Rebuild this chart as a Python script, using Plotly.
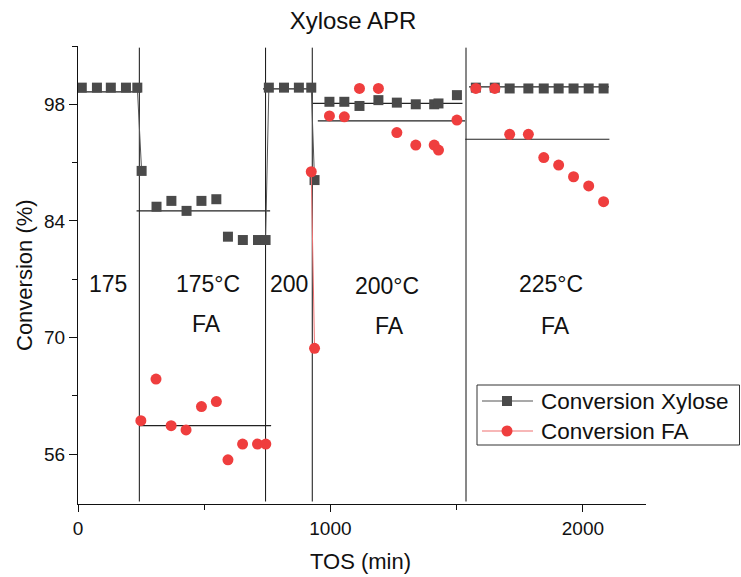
import plotly.graph_objects as go

# ---- data ----
xylose_tos = [15, 75, 130, 190, 235, 252, 311, 370, 430, 489, 548, 594, 653, 713, 743,
              756, 816, 875, 924, 937, 996, 1055, 1115, 1190, 1263, 1338, 1411, 1428, 1501,
              1576, 1651, 1710, 1784, 1845, 1904, 1963, 2023, 2082]
xylose_conv = [100.0, 100.0, 100.0, 100.0, 100.0, 90.0, 85.7, 86.4, 85.2, 86.4, 86.6, 82.1, 81.7, 81.7, 81.7,
               100.0, 100.0, 100.0, 100.0, 88.9, 98.3, 98.3, 97.8, 98.5, 98.2, 98.0, 98.0, 98.1, 99.1,
               100.0, 100.0, 99.9, 99.9, 99.9, 99.9, 99.9, 99.9, 99.9]
xylose_links = [4, 14, 18]   # index i joined to i+1 by a line

fa_tos = [249, 309, 369, 428, 489, 548, 594, 652, 711, 744,
          924, 937, 996, 1055, 1115, 1190, 1263, 1338, 1411, 1428, 1501,
          1576, 1651, 1710, 1784, 1845, 1904, 1963, 2023, 2082]
fa_conv = [60.0, 65.0, 59.4, 58.9, 61.7, 62.3, 55.3, 57.2, 57.2, 57.2,
           89.9, 68.7, 96.6, 96.5, 99.9, 99.9, 94.6, 93.1, 93.1, 92.5, 96.1,
           99.9, 99.9, 94.4, 94.4, 91.6, 90.7, 89.3, 88.2, 86.3]
fa_links = [10]

# average lines per condition
mean_x0 = [0, 232, 733, 930, 1549, 245, 950, 1534]
mean_x1 = [250, 761, 930, 1523, 2103, 765, 1533, 2105]
mean_y = [99.5, 85.2, 99.85, 98.1, 100.1, 59.4, 96.0, 93.8]

# condition change lines
vline_x = [243, 743, 928, 1537]

# condition labels
label_x = [119, 515, 509, 834, 1223, 1235, 1875, 1890]
label_y = [76.4, 76.4, 71.6, 76.4, 76.2, 71.4, 76.4, 71.4]
label_text = ["175", "175°C", "FA", "200", "200°C", "FA", "225°C", "FA"]

series_names = ["Conversion Xylose", "Conversion FA"]
series_colors = ["#4a4a4a", "#ef3e3e"]
series_line_colors = ["#555555", "#f07070"]
series_symbols = ["square", "circle"]


def with_gaps(xs, ys, links):
    ox, oy = [], []
    for i, (a, b) in enumerate(zip(xs, ys)):
        ox.append(a)
        oy.append(b)
        if i not in links:
            ox.append(None)
            oy.append(None)
    return ox, oy


FONT = "Liberation Sans, Arial, sans-serif"
fig = go.Figure()

for x in vline_x:
    fig.add_trace(go.Scatter(x=[x, x], y=[50.3, 104.8], mode="lines",
                             line=dict(color="#111111", width=1), showlegend=False, hoverinfo="skip"))

for a, b, y in zip(mean_x0, mean_x1, mean_y):
    fig.add_trace(go.Scatter(x=[a, b], y=[y, y], mode="lines",
                             line=dict(color="#222222", width=1.2), showlegend=False, hoverinfo="skip"))

for (xs, ys, links), name, col, lcol, sym, size in zip(
        [(xylose_tos, xylose_conv, xylose_links), (fa_tos, fa_conv, fa_links)],
        series_names, series_colors, series_line_colors, series_symbols, [10, 11]):
    gx, gy = with_gaps(xs, ys, links)
    fig.add_trace(go.Scatter(x=gx, y=gy, mode="lines+markers", name=name,
                             connectgaps=False, showlegend=False,
                             line=dict(color=lcol, width=1),
                             marker=dict(symbol=sym, size=size, color=col)))

for x, y, t in zip(label_x, label_y, label_text):
    fig.add_annotation(x=x, y=y, text=t, showarrow=False,
                       font=dict(size=23, color="#111111", family=FONT))

# ---- layout geometry (window pixels) ----
W, H = 741, 577
PX0, PX1, PY0, PY1 = 78, 646, 46, 504


def px(x):
    return (x - PX0) / (PX1 - PX0)


def py(y):
    return (PY1 - y) / (PY1 - PY0)


# axis titles
fig.add_annotation(xref="paper", yref="paper", x=px(360), y=py(561), text="TOS (min)",
                   showarrow=False, xanchor="center", yanchor="middle",
                   font=dict(size=22, color="#111111", family=FONT))
fig.add_annotation(xref="paper", yref="paper", x=px(24), y=0.5, text="Conversion (%)",
                   textangle=-90, showarrow=False, xanchor="center", yanchor="middle",
                   font=dict(size=22, color="#111111", family=FONT))

# legend box (drawn manually so it can hang past the plot area like the original)
fig.add_shape(type="rect", xref="paper", yref="paper", x0=px(477), x1=px(739.5), y0=py(445), y1=py(385),
              line=dict(color="#333333", width=1), fillcolor="white", layer="above")
for i, (name, col, lcol, sym) in enumerate(zip(series_names, series_colors, series_line_colors, series_symbols)):
    yc = 401 + 30 * i
    fig.add_shape(type="line", xref="paper", yref="paper", x0=px(482), x1=px(533), y0=py(yc), y1=py(yc),
                  line=dict(color=lcol, width=1.2), layer="above")
    if sym == "square":
        fig.add_shape(type="rect", xref="paper", yref="paper", x0=px(502), x1=px(512),
                      y0=py(yc + 5), y1=py(yc - 5), line=dict(width=0), fillcolor=col, layer="above")
    else:
        fig.add_shape(type="circle", xref="paper", yref="paper", x0=px(501.5), x1=px(512.5),
                      y0=py(yc + 5.5), y1=py(yc - 5.5), line=dict(width=0), fillcolor=col, layer="above")
    fig.add_annotation(xref="paper", yref="paper", x=px(539), y=py(yc), text=name, showarrow=False,
                       xanchor="left", yanchor="middle",
                       font=dict(size=22.5, color="#111111", family=FONT))

fig.update_layout(
    width=W, height=H,
    margin=dict(l=PX0, r=W - PX1, t=PY0, b=H - PY1),
    paper_bgcolor="white", plot_bgcolor="white",
    font=dict(family=FONT, color="#111111"),
    showlegend=False,
    title=dict(text="Xylose APR", x=353 / W, xanchor="center", y=1 - 21 / H, yanchor="middle",
               font=dict(size=24, color="#111111")),
    xaxis=dict(range=[0, 2250], tickvals=[0, 1000, 2000], ticktext=["0", "1000", "2000"],
               ticks="outside", ticklen=7, tickcolor="#111111", showline=True, linecolor="#111111",
               linewidth=1.2, showgrid=False, zeroline=False, tickfont=dict(size=19),
               automargin=False,
               minor=dict(tickvals=[500, 1500], ticks="outside", ticklen=5, tickcolor="#111111")),
    yaxis=dict(range=[50, 105], tickvals=[56, 70, 84, 98], ticktext=["56", "70", "84", "98"],
               ticks="outside", ticklen=8, tickcolor="#111111", showline=True, linecolor="#111111",
               linewidth=1.2, showgrid=False, zeroline=False, tickfont=dict(size=19),
               automargin=False,
               minor=dict(tickvals=[63, 77, 91, 105], ticks="outside", ticklen=5, tickcolor="#111111")),
)

# remove the default page margin so the figure sits at the window's top-left corner
fig.write_html("out.html",
               config={"displayModeBar": False},
               post_script="document.body.style.margin='0';document.body.style.overflow='hidden';")
